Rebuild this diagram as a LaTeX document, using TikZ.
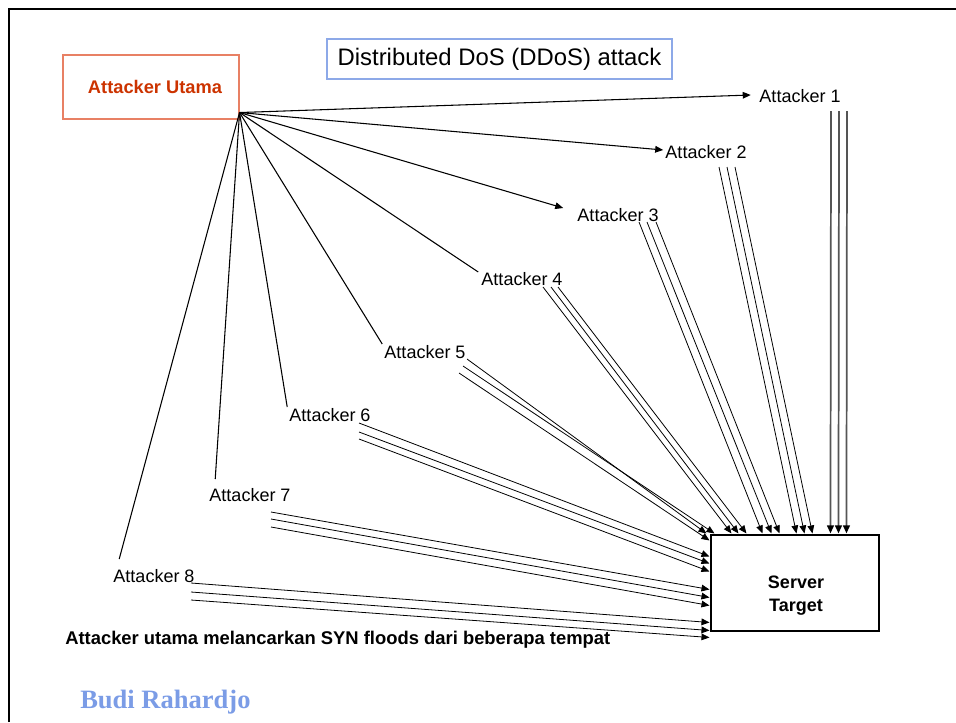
\documentclass[tikz,border=0pt]{standalone}
\usepackage{fontspec}
\setmainfont{Liberation Sans}
\newfontfamily\budifont{Liberation Serif}
\usetikzlibrary{calc,arrows.meta}

\definecolor{utamared}{RGB}{204,51,0}
\definecolor{utamaframe}{RGB}{232,128,100}
\definecolor{titleframe}{RGB}{141,169,232}
\definecolor{budiblue}{RGB}{123,156,230}
\definecolor{feedgray}{RGB}{85,85,85}

\tikzset{
  lbl/.style={inner sep=0pt, font=\fontsize{13.5}{16}\selectfont},
  fan/.style={line width=0.8pt},
  fanarrow/.style={fan, -{Triangle[length=6pt,width=5pt]}},
  flood/.style={line width=0.6pt, -{Triangle[length=6pt,width=5pt,black]}},
  floodgray/.style={flood, line width=1.3pt, draw=feedgray},
}

\begin{document}
\begin{tikzpicture}[x=0.75pt,y=-0.75pt]
\useasboundingbox (0,0) rectangle (956,722);

% slide frame
\draw[line width=1.9pt] (8.8,722) -- (8.8,8.8) -- (956,8.8);

% boxes
\node[draw=utamaframe, line width=0.8pt, minimum width=132pt, minimum height=48pt,
      inner sep=0pt, text=utamared, font=\bfseries\fontsize{13.7}{16}\selectfont]
      (utama) at (151,87) {\hspace{6pt}Attacker Utama};
\node[draw=titleframe, line width=0.8pt, minimum width=258.75pt, minimum height=30pt,
      inner sep=0pt, font=\fontsize{17.9}{20}\selectfont]
      (title) at (499.5,59) {Distributed DoS (DDoS) attack};
\node[draw, line width=0.8pt, minimum width=126pt, minimum height=72pt] (srv) at (795,583) {};
\node[align=center, inner sep=0pt, font=\bfseries\fontsize{13.5}{17.25}\selectfont]
      (srvtext) at (796,596) {Server\\Target};

% attacker labels
\node[lbl] (a1) at (800,96) {Attacker 1};
\node[lbl] (a2) at (706,152) {Attacker 2};
\node[lbl] (a3) at (618,215) {Attacker 3};
\node[lbl] (a4) at (522,279) {Attacker 4};
\node[lbl] (a5) at (425,352) {Attacker 5};
\node[lbl] (a6) at (330,415) {Attacker 6};
\node[lbl] (a7) at (250,495) {Attacker 7};
\node[lbl] (a8) at (154,576) {Attacker 8};

% fan-out from the main attacker
\coordinate (hub) at ($(utama.south east)+(0,-7)$);
\draw[fanarrow] (hub) -- ($(a1.west)+(-8.5,-1)$);
\draw[fanarrow] (hub) -- ($(a2.west)+(-2,-2)$);
\draw[fanarrow] (hub) -- ($(a3.west)+(-14,-7)$);
\draw[fan] (hub) -- ($(a4.west)+(-3,-7)$);
\draw[fan] (hub) -- ($(a5.west)+(-2,-8)$);
\draw[fan] (hub) -- ($(a6.west)+(-2,-8)$);
\draw[fan] (hub) -- ($(a7.west)+(6,-16)$);
\draw[fan] (hub) -- ($(a8.west)+(6,-17)$);

% floods towards the server
\foreach \sx/\ex in {31/120, 39/128, 47/136}
  \draw[floodgray] ($(a1)+(\sx,15)$) -- ($(srv.north west)+(\ex,-1)$);
\foreach \n/\sx/\sy/\ex/\ey in {
  2/13/15/86/-1, 2/21/15/94/-1, 2/29/15/102/-1,
  3/21/7/52/-1, 3/29/7/61/-1, 3/38/7/69/-1,
  4/21/8/21/-1, 4/29/8/28/-1, 4/36/8/36/-1,
  5/42/7/-4/-1, 5/38/14/4/-1, 5/34/21/-1/6,
  6/29/8/-1/22, 6/29/17/-1/29, 6/29/24/-1/37,
  7/21/17/-1/55, 7/21/24/-1/63, 7/21/32/-1/71,
  8/37/7/-1/88, 8/37/16/-1/96, 8/37/24/-1/103}
  \draw[flood] ($(a\n)+(\sx,\sy)$) -- ($(srv.north west)+(\ex,\ey)$);

% captions
\node[anchor=west, inner sep=0pt, font=\bfseries\fontsize{13.8}{16}\selectfont]
      (note) at (65,640) {Attacker utama melancarkan SYN floods dari beberapa tempat};
\node[anchor=west, inner sep=0pt, text=budiblue, font=\budifont\bfseries\fontsize{19.9}{22}\selectfont]
      (author) at (80,702) {Budi Rahardjo};
\end{tikzpicture}
\end{document}
